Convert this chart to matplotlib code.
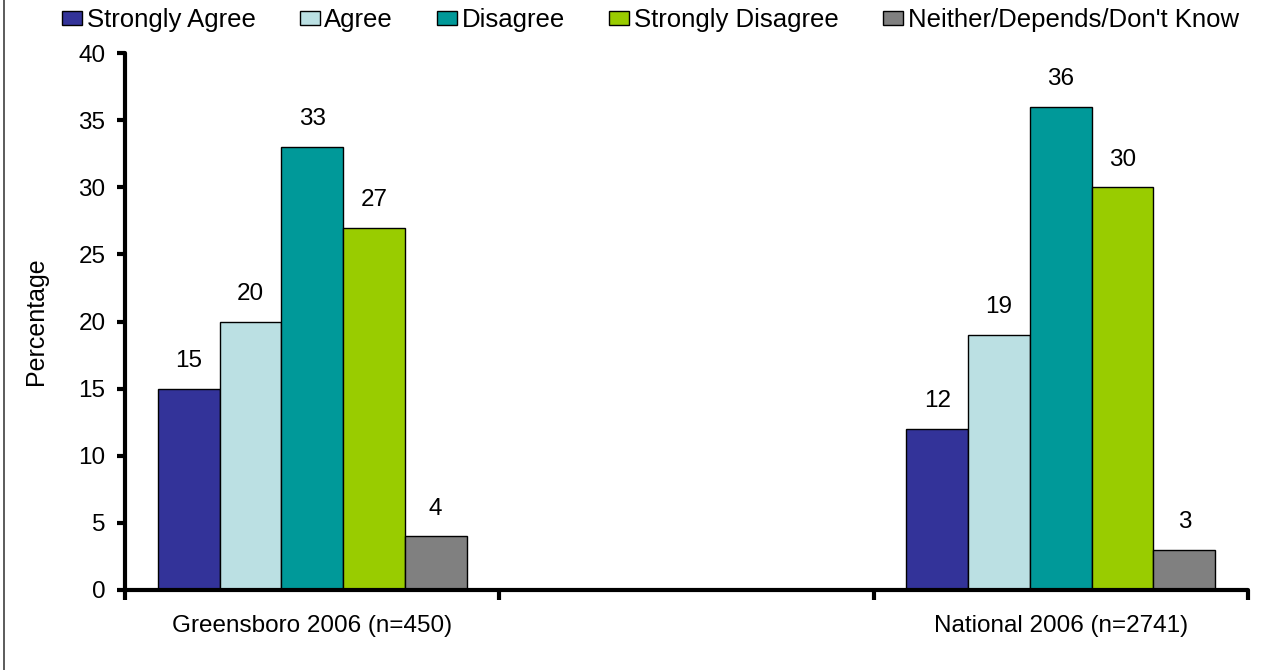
import matplotlib
matplotlib.use("Agg")
import matplotlib.pyplot as plt
from matplotlib.patches import Patch
from matplotlib.lines import Line2D

plt.rcParams['font.family'] = ['Liberation Sans', 'DejaVu Sans']

groups = ["Greensboro 2006 (n=450)", "", "National 2006 (n=2741)"]
series = ["Strongly Agree", "Agree", "Disagree", "Strongly Disagree",
          "Neither/Depends/Don't Know"]
greensboro = [15, 20, 33, 27, 4]
national = [12, 19, 36, 30, 3]
colors = ["#333399", "#BBE0E3", "#009999", "#99CC00", "#808080"]

FS = 17.5
W, H = 1262, 670
fig = plt.figure(figsize=(W / 100, H / 100), dpi=100)
ax = fig.add_axes([125 / W, 1 - 590 / H, (1248 - 125) / W, (590 - 53) / H])

positions = [0, 2]
values_by_group = [greensboro, national]
bw = 0.165
for i, (name, col) in enumerate(zip(series, colors)):
    xs = [p + (i - 2) * bw for p in positions]
    vals = [v[i] for v in values_by_group]
    bars = ax.bar(xs, vals, width=bw, color=col, edgecolor="black",
                  linewidth=1.0, zorder=2)
    for b, v in zip(bars, vals):
        ax.annotate(f"{v}", (b.get_x() + b.get_width() / 2, v),
                    xytext=(0, 12), textcoords="offset points",
                    ha="center", va="bottom", fontsize=FS)

ax.set_xlim(-0.5, 2.5)
ax.set_ylim(0, 40)
ax.set_yticks(range(0, 41, 5))
ax.tick_params(axis="y", labelsize=FS, direction="out", length=6, width=3,
               pad=8)
ax.set_xticks([-0.5, 0.5, 1.5, 2.5])
ax.set_xticklabels([])
ax.tick_params(axis="x", which="major", direction="out", length=7, width=3)
ax.set_xticks([0, 2], minor=True)
ax.set_xticklabels([groups[0], groups[2]], minor=True)
ax.tick_params(axis="x", which="minor", length=0, labelsize=FS, pad=18)

for s in ["top", "right"]:
    ax.spines[s].set_visible(False)
for s in ["left", "bottom"]:
    ax.spines[s].set_linewidth(3)
    ax.spines[s].set_capstyle("round")

ax.set_ylabel("Percentage", fontsize=18, labelpad=22)

handles = [Patch(facecolor=c, edgecolor="black", linewidth=1.0) for c in colors]
fig.legend(handles, series, loc="center left", ncol=5,
           bbox_to_anchor=(62 / W, 1 - 20 / H), frameon=False, fontsize=18.5,
           handlelength=0.78, handleheight=0.5, handletextpad=0.18,
           columnspacing=1.72, borderaxespad=0, borderpad=0)

# left edge of the chart frame
fig.add_artist(Line2D([4 / W, 4 / W], [0, 1], color="#404040", linewidth=1.2,
                      transform=fig.transFigure))

fig.savefig("out.png", dpi=100, facecolor="white")
